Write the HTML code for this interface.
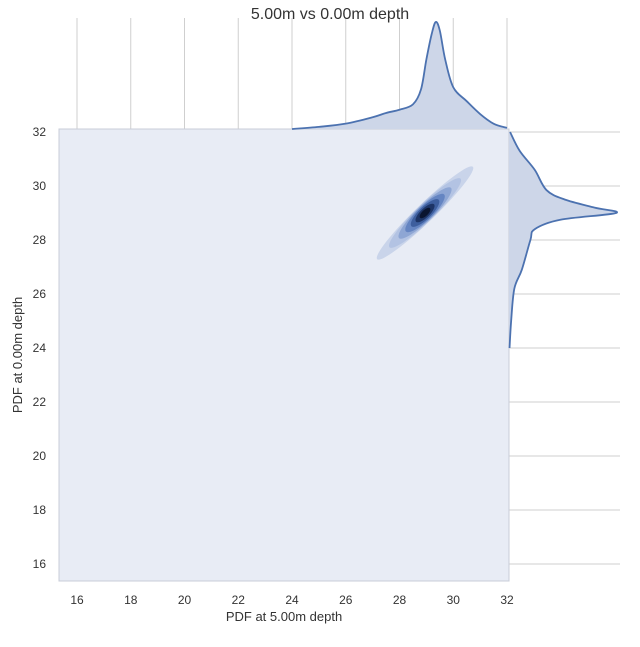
<!DOCTYPE html>
<html><head><meta charset="utf-8"><style>
body{margin:0;background:#fff;}
svg text{font-family:"Liberation Sans",sans-serif;}
</style></head><body>
<svg id="c" width="640" height="642" xmlns="http://www.w3.org/2000/svg"></svg>
<script>
const xTicks=[16,18,20,22,24,26,28,30,32];
const yTicks=[16,18,20,22,24,26,28,30,32];
const topX=[24,25,26,27,27.5,28,28.5,28.8,29.0,29.2,29.35,29.5,29.7,30,30.5,31,31.5,32];
const topD=[0,0.02,0.05,0.11,0.15,0.18,0.23,0.37,0.65,0.89,1.0,0.92,0.65,0.39,0.26,0.14,0.05,0.01];
const rightY=[24,25,26.2,26.9,28,28.4,28.75,29.0,29.2,29.5,29.85,30.6,31.3,32];
const rightD=[0.005,0.02,0.05,0.12,0.2,0.24,0.48,1.0,0.8,0.52,0.35,0.24,0.1,0.01];
const kdeCx=[28.95];
const kdeCy=[29.0];
const levelLen=[1.75,1.3,0.95,0.7,0.5,0.33,0.18];
const levelWid=[0.24,0.23,0.21,0.19,0.16,0.12,0.08];
const levelColor=["#c9d4ea","#b3c3e3","#8ea6d4","#6585c2","#3d5e9e","#1d3466","#0a1530"];

const svg=document.getElementById('c');
const NS="http://www.w3.org/2000/svg";
const L=59,R=509,T=129,B=581;
const x=v=>77+(v-16)*(430/16);
const y=v=>564-(v-16)*(432/16);
function mk(t,a,p){const e=document.createElementNS(NS,t);for(const k in a)e.setAttribute(k,a[k]);(p||svg).appendChild(e);return e;}
function smooth(pts){let d=`M${pts[0][0]},${pts[0][1]}`;for(let i=0;i<pts.length-1;i++){const p0=pts[Math.max(0,i-1)],p1=pts[i],p2=pts[i+1],p3=pts[Math.min(pts.length-1,i+2)];
d+=` C${p1[0]+(p2[0]-p0[0])/6},${p1[1]+(p2[1]-p0[1])/6} ${p2[0]-(p3[0]-p1[0])/6},${p2[1]-(p3[1]-p1[1])/6} ${p2[0]},${p2[1]}`;}return d;}

xTicks.forEach(t=>{const l=mk('line',{x1:x(t),x2:x(t),y1:18,y2:T,stroke:'#cfcfcf','stroke-width':1});

});
yTicks.forEach(t=>{const l=mk('line',{x1:R,x2:620,y1:y(t),y2:y(t),stroke:'#cfcfcf','stroke-width':1});

});

const bg=mk('rect',{x:L,y:T,width:R-L,height:B-T,fill:'#e8ecf5',stroke:'#c8cdd8','stroke-width':1});



const cx=x(kdeCx[0]),cy=y(kdeCy[0]);
const sc=430/16;
levelLen.forEach((len,i)=>{
 const e=mk('ellipse',{cx:cx,cy:cy,rx:len*sc*Math.SQRT2,ry:levelWid[i]*sc*Math.SQRT2,fill:levelColor[i],transform:`rotate(-44 ${cx} ${cy})`});
 
 
});

const topH=107;
const tp=topX.map((v,i)=>[x(v),T-topD[i]*topH]);
const p=smooth(tp);
const tf=mk('path',{d:p+` L${tp[tp.length-1][0]},${T} L${tp[0][0]},${T} Z`,fill:'#cdd6e8'});


const tl=mk('path',{d:p,fill:'none',stroke:'#4c72b0','stroke-width':1.8,'stroke-linejoin':'round'});



const rp=rightY.map((v,i)=>[R+rightD[i]*107,y(v)]);
const q=smooth(rp);
const rf=mk('path',{d:q+` L${R},${rp[rp.length-1][1]} L${R},${rp[0][1]} Z`,fill:'#cdd6e8'});


const rl=mk('path',{d:q,fill:'none',stroke:'#4c72b0','stroke-width':1.8,'stroke-linejoin':'round'});



xTicks.forEach(t=>{const e=mk('text',{x:x(t),y:604,'text-anchor':'middle','font-size':12,fill:'#333'});e.textContent=t;

});
yTicks.forEach(t=>{const e=mk('text',{x:46,y:y(t)+4,'text-anchor':'end','font-size':12,fill:'#333'});e.textContent=t;

});

const xt=mk('text',{x:284,y:621,'text-anchor':'middle','font-size':13,fill:'#333'});xt.textContent='PDF at 5.00m depth';


const yt=mk('text',{x:22,y:355,'text-anchor':'middle','font-size':13,fill:'#333',transform:'rotate(-90 22 355)'});yt.textContent='PDF at 0.00m depth';


const ti=mk('text',{x:330,y:19,'text-anchor':'middle','font-size':16,fill:'#333'});ti.textContent='5.00m vs 0.00m depth';


</script>
</body></html>
